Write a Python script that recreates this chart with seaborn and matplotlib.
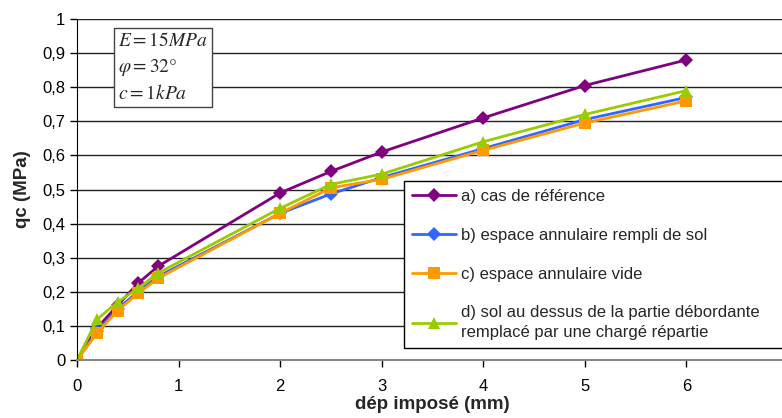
import pandas as pd
import matplotlib
matplotlib.use("Agg")
import matplotlib.pyplot as plt
import seaborn as sns

# data
dep = [0, 0.2, 0.4, 0.6, 0.8, 2, 2.5, 3, 4, 5, 6]
qc_a = [0, 0.095, 0.16, 0.225, 0.275, 0.49, 0.553, 0.61, 0.71, 0.805, 0.88]
qc_b = [0, 0.085, 0.15, 0.20, 0.245, 0.43, 0.487, 0.535, 0.62, 0.705, 0.77]
qc_c = [0, 0.08, 0.145, 0.195, 0.24, 0.43, 0.505, 0.53, 0.615, 0.695, 0.76]
qc_d = [0, 0.12, 0.17, 0.21, 0.255, 0.445, 0.515, 0.545, 0.64, 0.72, 0.79]
labels = ["a) cas de référence",
          "b) espace annulaire rempli de sol",
          "c) espace annulaire vide",
          "d) sol au dessus de la partie débordante\nremplacé par une chargé répartie"]
colors = ["#800080", "#3366FF", "#FF9900", "#99CC00"]
markers = ["D", "D", "s", "^"]

sns.set_style("white")
plt.rcParams['font.family'] = ['Liberation Sans', 'DejaVu Sans']
plt.rcParams['mathtext.fontset'] = 'stix'

fig = plt.figure(figsize=(7.82, 4.18), dpi=100)
ax = fig.add_axes([0.0985, 0.1388, 0.909, 0.8157])

for series, lab, col, mk in zip([qc_a, qc_b, qc_c, qc_d], labels, colors, markers):
    df = pd.DataFrame({"dep": dep, "qc": series})
    sns.lineplot(data=df, x="dep", y="qc", ax=ax, color=col, marker=mk,
                 markersize=8 if mk != "D" else 7, markeredgewidth=0,
                 linewidth=2, label=lab)

ax.set_xlim(0, 7)
ax.set_ylim(0, 1)
ax.set_xticks(range(0, 8))
ax.set_yticks([i / 10 for i in range(11)])
ax.set_yticklabels(["0"] + [f"0,{i}" for i in range(1, 10)] + ["1"])
ax.tick_params(axis="both", labelsize=12, direction="out", length=5, width=1,
               colors="black", left=True, bottom=True)
ax.tick_params(axis="x", pad=9)
ax.yaxis.grid(True, color="#222222", linewidth=1)
ax.xaxis.grid(False)
for s in ["top", "right"]:
    ax.spines[s].set_visible(False)
ax.spines["left"].set_color("black")
ax.spines["bottom"].set_color("#888888")
ax.spines["bottom"].set_linewidth(1.5)

ax.set_xlabel("dép imposé (mm)", fontsize=13.5, fontweight="bold", labelpad=1)
ax.set_ylabel("qc (MPa)", fontsize=13.5, fontweight="bold", labelpad=8)

ax.text(0.058, 0.962, "$E = 15MPa$\n$\\varphi = 32°$\n$c = 1kPa$",
        transform=ax.transAxes, fontsize=14, va="top", ha="left",
        linespacing=1.45,
        bbox=dict(boxstyle="square,pad=0.2", facecolor="white",
                  edgecolor="#444444", linewidth=1))

leg = ax.legend(loc="upper left", bbox_to_anchor=(0.46, 0.05, 0.6, 0.475),
                mode="expand", borderaxespad=0, fontsize=12,
                frameon=True, fancybox=False, edgecolor="black",
                handlelength=2.6, labelspacing=1.42, borderpad=0.5,
                handletextpad=0.3)
leg.get_texts()[3].set_linespacing(1.35)
leg.get_frame().set_linewidth(1)
leg.get_frame().set_alpha(1)
leg.set_clip_on(False)

fig.savefig("out.png", dpi=100)
